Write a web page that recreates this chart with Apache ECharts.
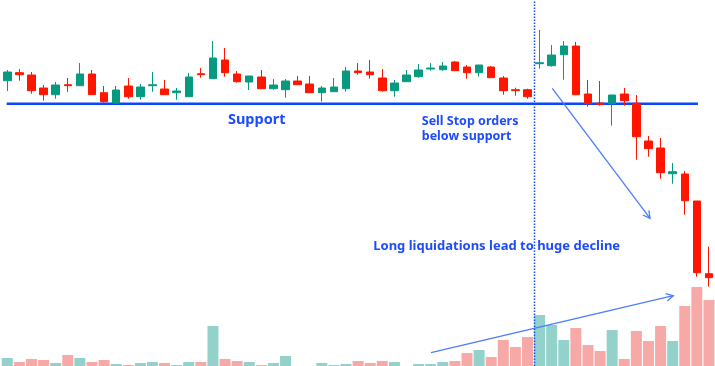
<!DOCTYPE html>
<html><head><meta charset="utf-8">
<script src="https://cdn.jsdelivr.net/npm/echarts@6.0.0/dist/echarts.min.js"></script>
<style>html,body{margin:0;padding:0;background:#fff}#c{width:715px;height:366px}</style>
</head><body><div id="c"></div>
<script>
const sessions = ['s1','s2','s3','s4','s5','s6','s7','s8','s9','s10','s11','s12','s13','s14','s15','s16','s17','s18','s19','s20','s21','s22','s23','s24','s25','s26','s27','s28','s29','s30','s31','s32','s33','s34','s35','s36','s37','s38','s39','s40','s41','s42','s43','s44','s45','s46','s47','s48','s49','s50','s51','s52','s53','s54','s55','s56','s57','s58','s59'];
const opens  = [285.3,293.3,291,278,271.3,281.3,280.3,292,273.3,263,280,269.3,280.3,277,273.3,269.3,292.3,287.3,306,292,284,289,277.3,276.3,285,282,273.3,274.3,277.3,295,294,288,275.3,284.3,289.3,297,296.3,304,299,293.3,299,288,276.3,276.3,302.3,300.3,311.3,320,272,263,262.3,272,262.7,225,218,192.3,192,165,92.3];
const closes = [294,291.3,275.3,271.3,281,280.3,292,271.3,264.3,276,269.3,279,281.3,271.3,275,289,291.3,308,293.3,284.3,290,277.3,281,285,281.3,273.3,278,279,295,293.3,291.3,275.3,283,291,296,298,300,295.3,293.3,301,288.3,275.3,275.3,269.3,303.3,311,320,271.3,262.3,261.5,271,265.3,229.3,217.3,193.3,194.3,165.3,93.3,88.3];
const lows   = [275,285.3,272.3,265.3,267.3,274.3,280.3,271.3,263.3,262,267.3,266.3,274.3,271.3,266.3,269.3,288.3,287.3,289.3,283.3,276,277.3,276.3,268.3,281.3,273.3,264.3,274.3,274.3,291.3,287.3,274.3,269.3,284.3,288.3,295.3,295.3,295.3,287.3,289.3,288.3,271.3,270.3,267.3,297.3,299.3,286.3,271.3,259.3,260.3,240.3,260.3,206.3,209.3,187.3,182.3,151.3,89.3,79.3];
const highs  = [296,297,294,281,284,288,303,296,280,280,288,282,294,286,278,293,298,325,318,295,290,296,287,287,290,290,280,288,299,303,306,297,286,296,302,303,304,305,301,301,300,290,278.3,277.3,336,321,325,324,286,285,271,278,271,230,228,203,195,165,119.3];
const volumes = [8,4,7,6,3,11,8,4,6,2,1,3,4,3,1,4,4,40,7,5,4,1,3,10,0,0,3,1,2,5,3,5,4,0,2,2,4,5,13,16,9,26,19,29,51,41,26,38,21,15,36,7,35,25,40,25,60,79,66];
const supportLevel = 262.3;
const breakoutSlot = 44.08;
const annotationTexts = ['Support', 'Sell Stop orders', 'below support', 'Long liquidations lead to huge decline'];

const UP = '#089981', DOWN = '#ff1500', VUP = '#93d2cb', VDOWN = '#f7a9a8';
const BLUE = '#1d4bff', ARROW = '#4a7cff';

const candleData = opens.map((o, i) => [o, closes[i], lows[i], highs[i]]);
const volData = volumes.map((v, i) => ({ value: v, itemStyle: { color: closes[i] >= opens[i] ? VUP : VDOWN } }));

// annotation geometry (value-axis slot units / price units)
const arrows = [
  [45.55, 277.7, 53.63, 147.7],
  [35.52, 13.3, 55.55, 70.3]
];
const labelPos = [
  [18.74, 246.3, 14.5],
  [34.76, 244.3, 12.5],
  [34.76, 229.8, 12.5],
  [30.75, 119.8, 13]
];

const chart = echarts.init(document.getElementById('c'), null, { renderer: 'canvas' });
chart.setOption({
  animation: false,
  backgroundColor: '#ffffff',
  grid: { left: 1.24, right: 0, top: 0, bottom: 0 },
  xAxis: [
    { type: 'category', data: sessions, show: false, boundaryGap: true },
    { type: 'value', min: 0, max: 59, show: false }
  ],
  yAxis: [
    { type: 'value', min: 0, max: 366, show: false },
    { type: 'value', min: 0, max: 366, show: false }
  ],
  series: [
    { type: 'bar', xAxisIndex: 0, yAxisIndex: 1, data: volData, barWidth: 11, z: 1 },
    { type: 'line', xAxisIndex: 1, yAxisIndex: 0, data: [[breakoutSlot, 0], [breakoutSlot, 366]], symbol: 'none',
      lineStyle: { color: '#1448ff', width: 1.5, type: [1.5, 1.5] }, z: 2 },
    { type: 'line', xAxisIndex: 1, yAxisIndex: 0, data: [[0.45, supportLevel], [57.59, supportLevel]], symbol: 'none',
      lineStyle: { color: '#0a46ff', width: 2.5 }, z: 2 },
    { type: 'candlestick', xAxisIndex: 0, yAxisIndex: 0, data: candleData, barWidth: 8, z: 3,
      itemStyle: { color: UP, color0: DOWN, borderColor: UP, borderColor0: DOWN, borderWidth: 1 } },
    { type: 'custom', xAxisIndex: 1, yAxisIndex: 0, data: arrows, z: 4,
      encode: { x: [0, 2], y: [1, 3] },
      renderItem: function (params, api) {
        const p1 = api.coord([api.value(0), api.value(1)]);
        const p2 = api.coord([api.value(2), api.value(3)]);
        const ang = Math.atan2(p2[1] - p1[1], p2[0] - p1[0]);
        const L = 8, a = 0.5;
        const h1 = [p2[0] - L * Math.cos(ang - a), p2[1] - L * Math.sin(ang - a)];
        const h2 = [p2[0] - L * Math.cos(ang + a), p2[1] - L * Math.sin(ang + a)];
        return { type: 'group', children: [
          { type: 'line', shape: { x1: p1[0], y1: p1[1], x2: p2[0], y2: p2[1] }, style: { stroke: ARROW, lineWidth: 1.3 } },
          { type: 'polyline', shape: { points: [h1, p2, h2] }, style: { stroke: ARROW, lineWidth: 1.3, fill: null } }
        ]};
      } },
    { type: 'custom', xAxisIndex: 1, yAxisIndex: 0, data: labelPos, z: 5,
      encode: { x: 0, y: 1 },
      renderItem: function (params, api) {
        const p = api.coord([api.value(0), api.value(1)]);
        return { type: 'text', x: p[0], y: p[1], style: {
          text: annotationTexts[params.dataIndex], fill: BLUE, fontSize: api.value(2),
          fontWeight: 'bold', fontFamily: 'Noto Sans', align: 'left', verticalAlign: 'middle' } };
      } }
  ]
});
</script>
</body></html>
